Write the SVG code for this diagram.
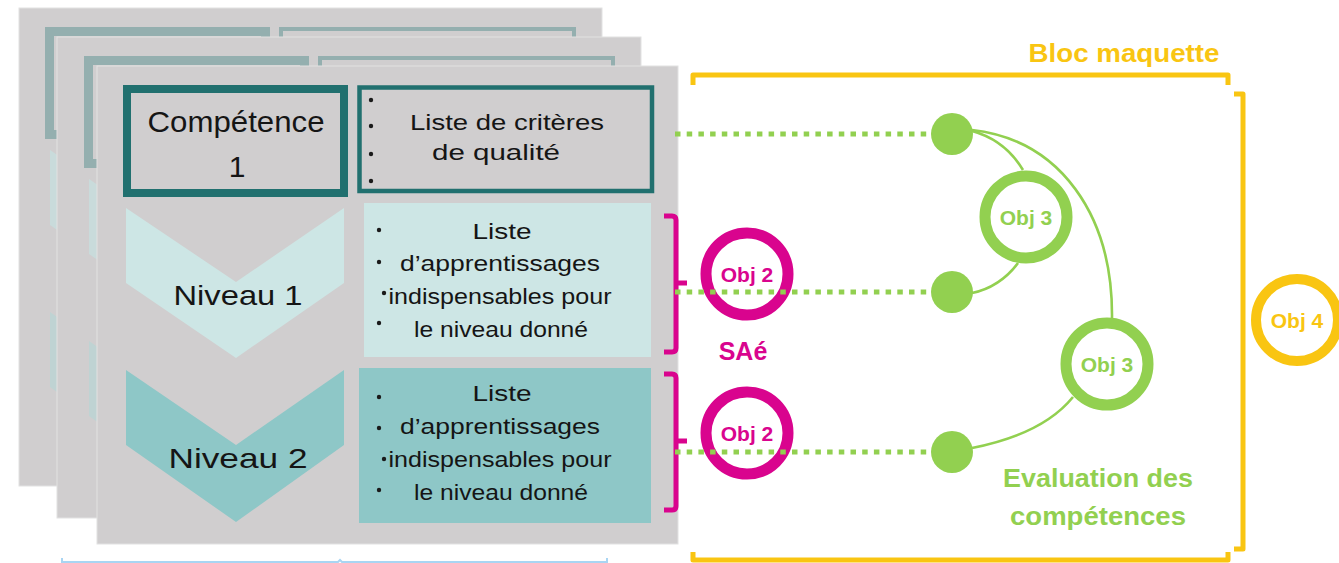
<svg xmlns="http://www.w3.org/2000/svg" width="1339" height="563" viewBox="0 0 1339 563">
<style>
.card{fill:#d0cecf;stroke:#e2e2e2;stroke-width:1}
.hw{font-family:"Liberation Sans","DejaVu Sans",sans-serif;fill:#151515;text-anchor:middle}
.bul{fill:#1a1a1a}
.obj{font-family:"Liberation Sans","DejaVu Sans",sans-serif;font-weight:bold;text-anchor:middle}
.dots{fill:none;stroke:#92d050;stroke-width:5;stroke-dasharray:5.5 6.2}
.arc{fill:none;stroke:#92d050;stroke-width:2.6}
.mag{fill:none;stroke:#d9048e;stroke-width:5;stroke-linejoin:round}
.yel{fill:none;stroke:#f9c512;stroke-width:5;stroke-linejoin:round}
.ring{fill:#ffffff;stroke-width:11}
</style>
<rect width="1339" height="563" fill="#ffffff"/>

<g id="card-back-1">
  <rect class="card" x="19" y="8" width="583" height="478"/>
  <g transform="translate(-78,-58)">
    <rect x="127.5" y="89.5" width="216" height="103" fill="none" stroke="#94afaf" stroke-width="9"/>
    <rect x="359" y="87" width="293" height="104" fill="none" stroke="#94afaf" stroke-width="4"/>
    <path d="M128,208 L236,282 L344,208 L344,283 L236,358 L128,283 Z" fill="#c9dbdb"/>
    <path d="M128,370 L236,445 L344,370 L344,445 L236,522 L128,445 Z" fill="#bfd3d3"/>
  </g>
</g>

<g id="card-back-2">
  <rect class="card" x="57" y="37" width="584" height="481"/>
  <g transform="translate(-39,-29)">
    <rect x="127.5" y="89.5" width="216" height="103" fill="none" stroke="#94afaf" stroke-width="9"/>
    <rect x="359" y="87" width="293" height="104" fill="none" stroke="#94afaf" stroke-width="4"/>
    <path d="M128,208 L236,282 L344,208 L344,283 L236,358 L128,283 Z" fill="#c9dbdb"/>
    <path d="M128,370 L236,445 L344,370 L344,445 L236,522 L128,445 Z" fill="#bfd3d3"/>
  </g>
</g>

<g id="card-front">
  <rect class="card" x="97" y="66" width="581" height="478"/>
</g>

<g id="competence">
  <rect x="127" y="89" width="217" height="104" fill="none" stroke="#21706f" stroke-width="8"/>
  <text class="hw" x="236" y="132" font-size="30" textLength="177" lengthAdjust="spacingAndGlyphs">Compétence</text>
  <text class="hw" x="237" y="177" font-size="30">1</text>
</g>

<g id="criteres">
  <rect x="359.5" y="87.5" width="292.5" height="103.5" fill="none" stroke="#21706f" stroke-width="4.5"/>
  <circle class="bul" cx="371" cy="100" r="2.2"/>
  <circle class="bul" cx="371" cy="126" r="2.2"/>
  <circle class="bul" cx="371" cy="154" r="2.2"/>
  <circle class="bul" cx="371" cy="181" r="2.2"/>
  <text class="hw" x="507" y="130" font-size="22" textLength="194" lengthAdjust="spacingAndGlyphs">Liste de critères</text>
  <text class="hw" x="496" y="160" font-size="22" textLength="128" lengthAdjust="spacingAndGlyphs">de qualité</text>
</g>

<g id="niveau1">
  <path d="M126,208 L236,282 L344,208 L344,283 L236,358 L126,283 Z" fill="#cde6e5"/>
  <text class="hw" x="238" y="305" font-size="28" textLength="129" lengthAdjust="spacingAndGlyphs">Niveau 1</text>
</g>

<g id="niveau1-list">
  <rect x="364" y="203" width="287" height="154" fill="#cde6e5"/>
  <circle class="bul" cx="379" cy="230" r="2.2"/>
  <circle class="bul" cx="379" cy="262" r="2.2"/>
  <circle class="bul" cx="384" cy="293" r="2.2"/>
  <circle class="bul" cx="379" cy="323" r="2.2"/>
  <text class="hw" x="502" y="239" font-size="22" textLength="59" lengthAdjust="spacingAndGlyphs">Liste</text>
  <text class="hw" x="500" y="271" font-size="22" textLength="200" lengthAdjust="spacingAndGlyphs">d’apprentissages</text>
  <text class="hw" x="500" y="304" font-size="22" textLength="223" lengthAdjust="spacingAndGlyphs">indispensables pour</text>
  <text class="hw" x="501" y="337" font-size="22" textLength="174" lengthAdjust="spacingAndGlyphs">le niveau donné</text>
</g>

<g id="niveau2">
  <path d="M126,370 L236,445 L344,370 L344,445 L236,522 L126,445 Z" fill="#8ec7c7"/>
  <text class="hw" x="238" y="468" font-size="28" textLength="139" lengthAdjust="spacingAndGlyphs">Niveau 2</text>
</g>

<g id="niveau2-list">
  <rect x="359" y="368" width="292" height="155" fill="#8ec7c7"/>
  <circle class="bul" cx="379" cy="397" r="2.2"/>
  <circle class="bul" cx="379" cy="428" r="2.2"/>
  <circle class="bul" cx="384" cy="459" r="2.2"/>
  <circle class="bul" cx="379" cy="490" r="2.2"/>
  <text class="hw" x="502" y="401" font-size="22" textLength="59" lengthAdjust="spacingAndGlyphs">Liste</text>
  <text class="hw" x="500" y="434" font-size="22" textLength="200" lengthAdjust="spacingAndGlyphs">d’apprentissages</text>
  <text class="hw" x="500" y="467" font-size="22" textLength="223" lengthAdjust="spacingAndGlyphs">indispensables pour</text>
  <text class="hw" x="501" y="500" font-size="22" textLength="174" lengthAdjust="spacingAndGlyphs">le niveau donné</text>
</g>

<g id="bottom-brace">
  <path d="M62,558 V562 H338 L340,560 L342,562 H607 V558" fill="none" stroke="#a9d5f3" stroke-width="2"/>
</g>

<g id="sae-brackets">
  <path class="mag" d="M664,216 H672 Q676,216 676,220 V348 Q676,352 672,352 H664 M676,283 H687"/>
  <path class="mag" d="M664,374 H672 Q676,374 676,378 V506 Q676,510 672,510 H664 M676,441 H687"/>
</g>

<g id="obj2-a">
  <circle class="ring" cx="747" cy="274" r="41" stroke="#d9048e"/>
  <text class="obj" x="747" y="282" font-size="21" fill="#d9048e">Obj 2</text>
</g>
<g id="obj2-b">
  <circle class="ring" cx="747" cy="433" r="41" stroke="#d9048e"/>
  <text class="obj" x="747" y="441" font-size="21" fill="#d9048e">Obj 2</text>
</g>
<g id="sae-label">
  <text class="obj" x="743" y="360" font-size="25" fill="#d9048e">SAé</text>
</g>

<g id="bloc-maquette">
  <text class="obj" x="1124" y="62" font-size="26" fill="#f9c512" textLength="191" lengthAdjust="spacingAndGlyphs">Bloc maquette</text>
  <path class="yel" d="M693,85 V75 H1228 V85"/>
  <path class="yel" d="M693,552 V560 H1228 V552"/>
  <path class="yel" d="M1234,94 H1243 V549 H1234"/>
</g>

<g id="connectors">
  <path class="arc" d="M972,131 Q1005,140 1023,170"/>
  <path class="arc" d="M972,130 C1060,140 1113,215 1112,318"/>
  <path class="arc" d="M1018,263 Q1000,287 972,293"/>
  <path class="arc" d="M1073,397 Q1043,434 972,448"/>
  <path class="dots" d="M675,134 H931"/>
  <path class="dots" d="M675,292 H931"/>
  <path class="dots" d="M675,452 H931"/>
</g>

<g id="dot-1"><circle cx="952" cy="134" r="21" fill="#92d050"/></g>
<g id="dot-2"><circle cx="952" cy="292" r="21" fill="#92d050"/></g>
<g id="dot-3"><circle cx="952" cy="452" r="21" fill="#92d050"/></g>

<g id="obj3-a">
  <circle class="ring" cx="1026" cy="217" r="41" stroke="#92d050"/>
  <text class="obj" x="1026" y="225" font-size="21" fill="#92d050">Obj 3</text>
</g>
<g id="obj3-b">
  <circle class="ring" cx="1107" cy="364" r="41" stroke="#92d050"/>
  <text class="obj" x="1107" y="372" font-size="21" fill="#92d050">Obj 3</text>
</g>

<g id="evaluation">
  <text class="obj" x="1098" y="487" font-size="26" fill="#92d050" textLength="190" lengthAdjust="spacingAndGlyphs">Evaluation des</text>
  <text class="obj" x="1098" y="525" font-size="26" fill="#92d050" textLength="176" lengthAdjust="spacingAndGlyphs">compétences</text>
</g>

<g id="obj4">
  <circle cx="1297" cy="320" r="41" fill="#ffffff" stroke="#f9c512" stroke-width="10"/>
  <text class="obj" x="1297" y="328" font-size="21" fill="#f9c512">Obj 4</text>
</g>
</svg>
